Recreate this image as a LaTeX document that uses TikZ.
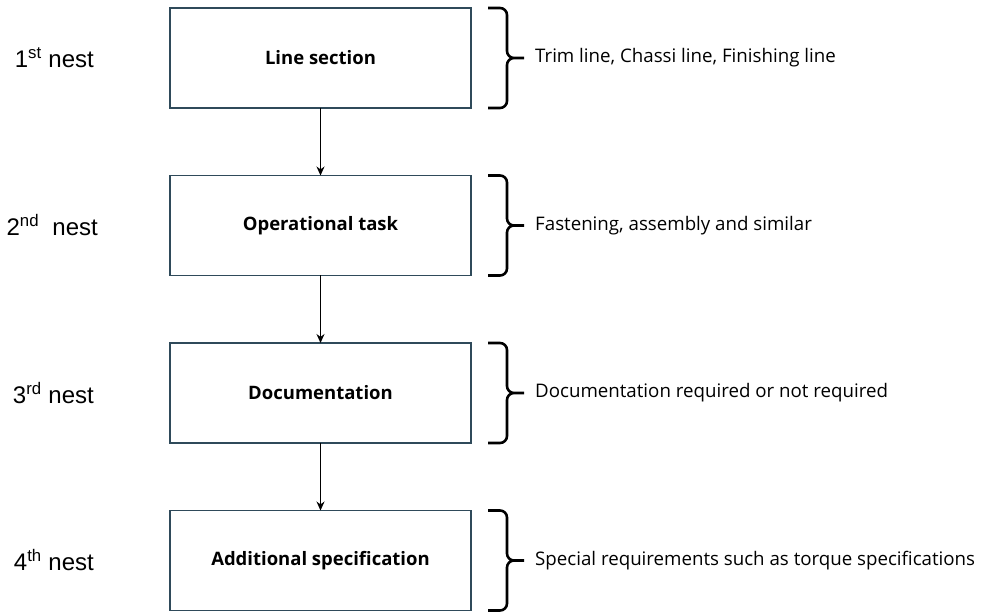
\documentclass[tikz,border=0pt]{standalone}
\usepackage{fontspec}
\setmainfont{Liberation Sans}
\newfontfamily\notefont{Open Sans}
\usetikzlibrary{positioning,arrows.meta}
\definecolor{boxline}{HTML}{2F4A5A}
\tikzset{
  nestbox/.style={rectangle, draw=boxline, line width=1.8pt, outer sep=0pt,
    minimum width=301pt, minimum height=100pt,
    font=\notefont\bfseries\fontsize{18.5}{22}\selectfont},
  nestlabel/.style={inner sep=0pt, font=\fontsize{24}{28}\selectfont},
  nestnote/.style={inner sep=0pt, font=\notefont\fontsize{18.7}{23}\selectfont},
  bracket/.style={line width=2.6pt, rounded corners=7pt},
  flow/.style={-{Stealth[length=9pt,width=8pt]}, line width=1.3pt},
}
\begin{document}
\begin{tikzpicture}[x=1pt, y=1pt, node distance=67.5pt]
\useasboundingbox (0,0) rectangle (982,-612);
\node (A) [nestbox] at (320.5,-58) {Line section};
\node (B) [nestbox, below=of A] {Operational task};
\node (C) [nestbox, below=of B] {Documentation};
\node (D) [nestbox, below=of C] {Additional specification};

\node (nA) [nestlabel, left=76pt of A] {1\textsuperscript{st} nest};
\node (nB) [nestlabel, left=72pt of B] {2\textsuperscript{nd}~ nest};
\node (nC) [nestlabel, left=76pt of C] {3\textsuperscript{rd} nest};
\node (nD) [nestlabel, left=76pt of D] {4\textsuperscript{th} nest};

\node (dA) [nestnote, right=64pt of A] {Trim line, Chassi line, Finishing line};
\node (dB) [nestnote, right=64pt of B] {Fastening, assembly and similar};
\node (dC) [nestnote, right=64pt of C] {Documentation required or not required};
\node (dD) [nestnote, right=64pt of D] {Special requirements such as torque specifications};

\draw[flow] (A) -- (B);
\draw[flow] (B) -- (C);
\draw[flow] (C) -- (D);

\draw[bracket] ([xshift=17pt]A.north east) -- ([xshift=36pt]A.north east) -- ([xshift=36pt]A.east) -- ([xshift=53pt]A.east)
  ([xshift=17pt]A.south east) -- ([xshift=36pt]A.south east) -- ([xshift=36pt]A.east) -- ([xshift=53pt]A.east);
\draw[bracket] ([xshift=17pt]B.north east) -- ([xshift=36pt]B.north east) -- ([xshift=36pt]B.east) -- ([xshift=53pt]B.east)
  ([xshift=17pt]B.south east) -- ([xshift=36pt]B.south east) -- ([xshift=36pt]B.east) -- ([xshift=53pt]B.east);
\draw[bracket] ([xshift=17pt]C.north east) -- ([xshift=36pt]C.north east) -- ([xshift=36pt]C.east) -- ([xshift=53pt]C.east)
  ([xshift=17pt]C.south east) -- ([xshift=36pt]C.south east) -- ([xshift=36pt]C.east) -- ([xshift=53pt]C.east);
\draw[bracket] ([xshift=17pt]D.north east) -- ([xshift=36pt]D.north east) -- ([xshift=36pt]D.east) -- ([xshift=53pt]D.east)
  ([xshift=17pt]D.south east) -- ([xshift=36pt]D.south east) -- ([xshift=36pt]D.east) -- ([xshift=53pt]D.east);
\end{tikzpicture}
\end{document}
